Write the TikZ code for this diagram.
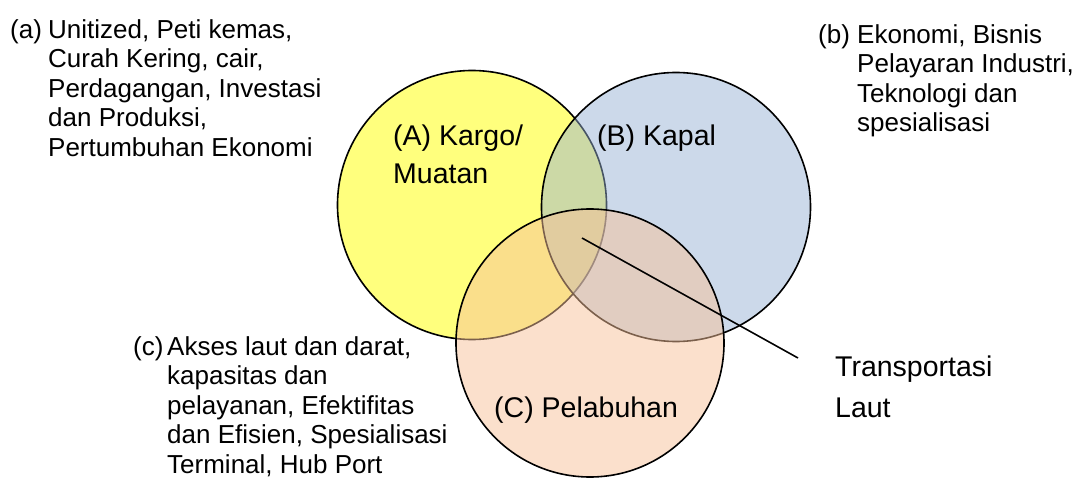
\documentclass[tikz,border=0pt]{standalone}
\usepackage{fontspec}
\setmainfont{Liberation Sans}
\usepackage{tikz}
\usetikzlibrary{calc}

\definecolor{kargo}{RGB}{255,255,125}
\definecolor{kapal}{RGB}{149,176,211}
\definecolor{pelabuhan}{RGB}{247,193,153}

\begin{document}
\begin{tikzpicture}[x=1pt,y=-1pt,
  ring/.style={draw=black,line width=1.6pt},
  sidetxt/.style={anchor=base west,inner sep=0pt,align=left,font=\fontsize{26}{29.6}\selectfont},
  ringtxt/.style={anchor=base west,inner sep=0pt,align=left,font=\fontsize{28.5}{38.5}\selectfont}]
	          %\draw[help lines] (0,0) grid[step=50] (1080,479);
	          \useasboundingbox (0,0) rectangle (1080,479);
	          % the three sets
	          \draw[ring,fill=kargo] (472,205) circle (134.5);
	          \draw[ring,fill=kapal,fill opacity=0.48] (676,207) circle (134.5);
	          \draw[ring,fill=pelabuhan,fill opacity=0.5] (590,343) circle (134);
	          % names inside the circles (base = last line)
	          \node[ringtxt] (A) at (393,183.5) {(A) Kargo/\\Muatan};
	          \node[ringtxt] (B) at (597,145) {(B) Kapal};
	          \node[ringtxt] (C) at (494,417) {(C) Pelabuhan};
	          % the common part
	          \node[ringtxt,font=\fontsize{28.5}{41}\selectfont] (TL) at (835,417) {Transportasi\\Laut};
	          \coordinate (core) at (582,238);
	          \coordinate (tip) at (798,358);
	          \draw[line width=1.6pt] (core) -- (tip);
	          % remarks
	          \node[sidetxt] (a) at (10,38) {(a)};
	          \node[sidetxt] (a_txt) at (48,156.4) {Unitized, Peti kemas,\\Curah Kering, cair,\\Perdagangan, Investasi\\dan Produksi,\\Pertumbuhan Ekonomi};
	          \node[sidetxt] (b) at (818,43) {(b)};
	          \node[sidetxt] (b_txt) at (857,131.8) {Ekonomi, Bisnis\\Pelayaran Industri,\\Teknologi dan\\spesialisasi};
	          \node[sidetxt] (c) at (133,355) {(c)};
	          \node[sidetxt] (c_txt) at (167,473.4) {Akses laut dan darat,\\kapasitas dan\\pelayanan, Efektifitas\\dan Efisien, Spesialisasi\\Terminal, Hub Port};
\end{tikzpicture}
\end{document}
